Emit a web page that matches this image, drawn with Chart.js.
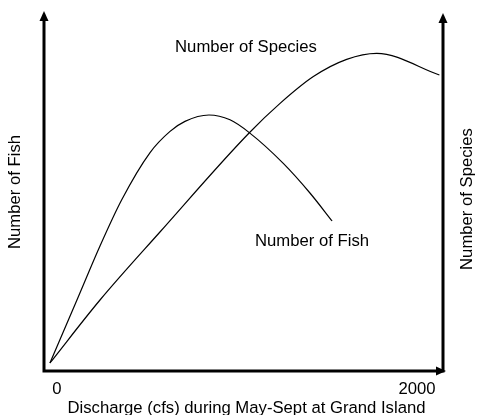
<!DOCTYPE html>
<html>
<head>
<meta charset="utf-8">
<script src="https://cdn.jsdelivr.net/npm/chart.js@4/dist/chart.umd.min.js"></script>
<style>
  html, body { margin: 0; padding: 0; background: #fff; }
  #wrap { width: 478px; height: 415px; position: relative; }
</style>
</head>
<body>
<div id="wrap"><canvas id="fishChart"></canvas></div>
<script>
// ── Data (discharge in cfs, relative response units) ───────────────
const fishDischarge    = [0, 150, 278, 398, 556, 667, 750, 883, 1000, 1107, 1296, 1444, 1567];
const fishCount        = [0, 15.75, 29.25, 40.75, 52.6, 57.9, 60.4, 62, 60.8, 57.6, 49.9, 42.5, 35.5];
const speciesDischarge = [0, 278, 611, 1106, 1278, 1463, 1648, 1815, 2163];
const speciesCount     = [0, 15.75, 32.75, 57.5, 64.9, 71.6, 75.9, 77.4, 72];
const xTicks = [0, 2000];

const FONT = '"Liberation Sans", Arial, Helvetica, sans-serif';
const FONT_SIZE = 16.7;

function toPoints(xs, ys) {
  return xs.map((x, i) => ({ x: x, y: ys[i] }));
}

// ── Axes with arrowheads + free text labels ─────────────────────────
const decorations = {
  id: 'decorations',
  afterDraw(chart) {
    const { ctx, chartArea: a } = chart;
    ctx.save();
    ctx.strokeStyle = '#000';
    ctx.fillStyle = '#000';
    ctx.lineWidth = 3;
    ctx.lineCap = 'butt';

    // left and right vertical axes, bottom axis
    ctx.beginPath();
    ctx.moveTo(a.left, a.bottom + 1.5); ctx.lineTo(a.left, a.top + 4);
    ctx.moveTo(a.right, a.bottom + 1.5); ctx.lineTo(a.right, a.top + 6);
    ctx.moveTo(a.left - 1.5, a.bottom); ctx.lineTo(a.right, a.bottom);
    ctx.stroke();

    const arrowUp = (x, tip) => {
      ctx.beginPath();
      ctx.moveTo(x, tip);
      ctx.lineTo(x - 4.5, tip + 10);
      ctx.lineTo(x + 4.5, tip + 10);
      ctx.closePath();
      ctx.fill();
    };
    arrowUp(a.left, a.top - 2);
    arrowUp(a.right, a.top);
    // right-pointing arrow on the x axis
    ctx.beginPath();
    ctx.moveTo(a.right + 3, a.bottom);
    ctx.lineTo(a.right - 7, a.bottom - 4.5);
    ctx.lineTo(a.right - 7, a.bottom + 4.5);
    ctx.closePath();
    ctx.fill();

    ctx.font = FONT_SIZE + 'px ' + FONT;
    ctx.textBaseline = 'middle';
    ctx.fillStyle = '#000';

    ctx.textAlign = 'center';
    ctx.fillText('Number of Species', 246, 47);
    ctx.textAlign = 'left';
    ctx.fillText('Number of Fish', 255, 241);

    // bottom title, a little right of the plot centre as in the source
    ctx.textAlign = 'center';
    ctx.fillText('Discharge (cfs) during May-Sept at Grand Island', 246.5, 408);

    // rotated side titles, both reading bottom to top
    ctx.save();
    ctx.translate(15, 192);
    ctx.rotate(-Math.PI / 2);
    ctx.fillText('Number of Fish', 0, 0);
    ctx.restore();
    ctx.save();
    ctx.translate(467, 199);
    ctx.rotate(-Math.PI / 2);
    ctx.fillText('Number of Species', 0, 0);
    ctx.restore();

    ctx.restore();
  }
};

new Chart(document.getElementById('fishChart'), {
  type: 'line',
  data: {
    datasets: [
      {
        label: 'Number of Fish',
        data: toPoints(fishDischarge, fishCount),
        borderColor: '#000',
        borderWidth: 1.2,
        pointRadius: 0,
        cubicInterpolationMode: 'monotone',
        fill: false,
      },
      {
        label: 'Number of Species',
        data: toPoints(speciesDischarge, speciesCount),
        borderColor: '#000',
        borderWidth: 1.2,
        pointRadius: 0,
        cubicInterpolationMode: 'monotone',
        fill: false,
      }
    ]
  },
  options: {
    responsive: true,
    maintainAspectRatio: false,
    animation: false,
    layout: { padding: { left: 44, right: 35, top: 13, bottom: 0 } },
    plugins: {
      legend: { display: false },
      tooltip: { enabled: false }
    },
    scales: {
      x: {
        type: 'linear',
        min: -33,
        max: 2183,
        afterBuildTicks: (axis) => { axis.ticks = xTicks.map(v => ({ value: v })); },
        afterFit: (axis) => { axis.height = 44; },
        grid: { display: false, drawTicks: false },
        border: { display: false },
        ticks: {
          padding: 10,
          labelOffset: 7,
          color: '#000',
          font: { family: FONT, size: FONT_SIZE, lineHeight: 1 },
          callback: v => String(v)
        }
      },
      y: {
        type: 'linear',
        min: -2,
        max: 87.5,
        display: false
      }
    }
  },
  plugins: [decorations]
});
</script>
</body>
</html>
